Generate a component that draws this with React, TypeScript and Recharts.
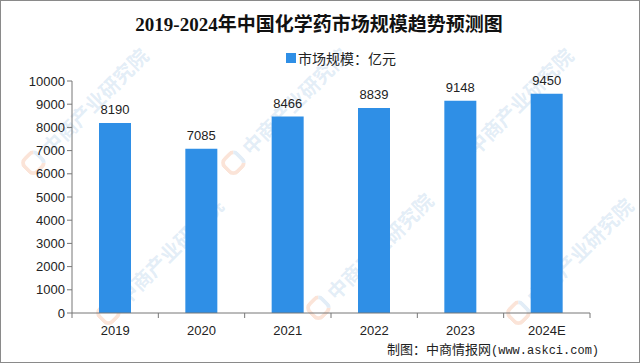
import { BarChart, Bar, XAxis, YAxis, LabelList } from 'recharts';

const years = ['2019', '2020', '2021', '2022', '2023', '2024E'];
const marketSize = [8190, 7085, 8466, 8839, 9148, 9450];
const yTicks = [0, 1000, 2000, 3000, 4000, 5000, 6000, 7000, 8000, 9000, 10000];

const data = years.map((year, i) => ({ year, value: marketSize[i] }));

const BLUE = '#2f8fe6';
const AXIS = '#777';
const FONT = '"Liberation Sans", "Noto Sans CJK SC", sans-serif';

// watermark spots (decoration only), kept inside the frame
const marks = [
  { left: 15, top: 160 }, { left: 215, top: 160 }, { left: 440, top: 160 },
  { left: 90, top: 310 }, { left: 300, top: 305 }, { left: 500, top: 310 },
];

function XTick(props: any) {
  const { x, y, payload, index } = props;
  const half = payload?.offset || 43;
  return (
    <g>
      <line x1={x - half} y1={y - 8} x2={x - half} y2={y - 3} stroke={AXIS} />
      {index === years.length - 1 && (
        <line x1={x + half} y1={y - 8} x2={x + half} y2={y - 3} stroke={AXIS} />
      )}
      <text x={x} y={y + 14} textAnchor="middle" fontSize={13} fill="#222" fontFamily={FONT}>
        {payload.value}
      </text>
    </g>
  );
}

export default function App() {
  return (
    <div style={{ position: 'absolute', left: 0, top: 0, width: 640, height: 363, background: '#fff', overflow: 'hidden' }}>
      <div style={{ position: 'absolute', inset: 0, pointerEvents: 'none' }}>
        {marks.map((m, i) => (
          <div
            key={i}
            style={{
              position: 'absolute', left: m.left, top: m.top, transform: 'rotate(-45deg)', transformOrigin: 'left top',
              fontSize: 20, fontWeight: 'bold', color: 'rgba(160,195,228,0.3)', whiteSpace: 'nowrap',
              fontFamily: '"Noto Sans CJK SC", sans-serif', display: 'flex', alignItems: 'center', gap: 6,
            }}
          >
            <span style={{ width: 14, height: 14, borderRadius: 8, border: '4px solid rgba(240,150,100,0.25)', borderRightColor: 'rgba(160,195,228,0.3)' }} />
            中商产业研究院
          </div>
        ))}
      </div>
      <div
        style={{
          position: 'absolute', left: 0, top: 9, width: 638, textAlign: 'center', fontSize: 19, fontWeight: 'bold',
          color: '#111', fontFamily: '"Liberation Serif", "Noto Sans CJK SC", serif',
        }}
      >
        2019-2024年中国化学药市场规模趋势预测图
      </div>
      <div
        style={{
          position: 'absolute', left: 286, top: 48, display: 'flex', alignItems: 'center', fontSize: 14,
          color: '#222', fontFamily: FONT, whiteSpace: 'nowrap',
        }}
      >
        <span style={{ width: 10, height: 10, background: BLUE, display: 'inline-block', marginRight: 2 }} />
        市场规模：亿元
      </div>
      <BarChart width={640} height={363} data={data} margin={{ top: 81, right: 50, bottom: 20, left: 10 }} barSize={32}>
        <YAxis
          width={62}
          domain={[0, 10000]}
          ticks={yTicks}
          interval={0}
          stroke={AXIS}
          tickSize={5}
          tick={{ fontSize: 13, fill: '#222', fontFamily: FONT }}
        />
        <XAxis dataKey="year" height={30} stroke={AXIS} tickLine={false} tick={<XTick />} interval={0} />
        <Bar dataKey="value" fill={BLUE} isAnimationActive={false}>
          <LabelList dataKey="value" position="top" offset={9} fontSize={13} fill="#222" fontFamily={FONT} />
        </Bar>
      </BarChart>
      <div
        style={{
          position: 'absolute', left: 387, top: 339, fontSize: 13, color: '#222', whiteSpace: 'nowrap',
          fontFamily: '"Noto Sans CJK SC", sans-serif',
        }}
      >
        制图：中商情报网<span style={{ fontFamily: '"Liberation Mono", monospace', fontSize: 12 }}>(www.askci.com)</span>
      </div>
      <div style={{ position: 'absolute', inset: 0, border: '1px solid #8a8a8a', pointerEvents: 'none' }} />
    </div>
  );
}
